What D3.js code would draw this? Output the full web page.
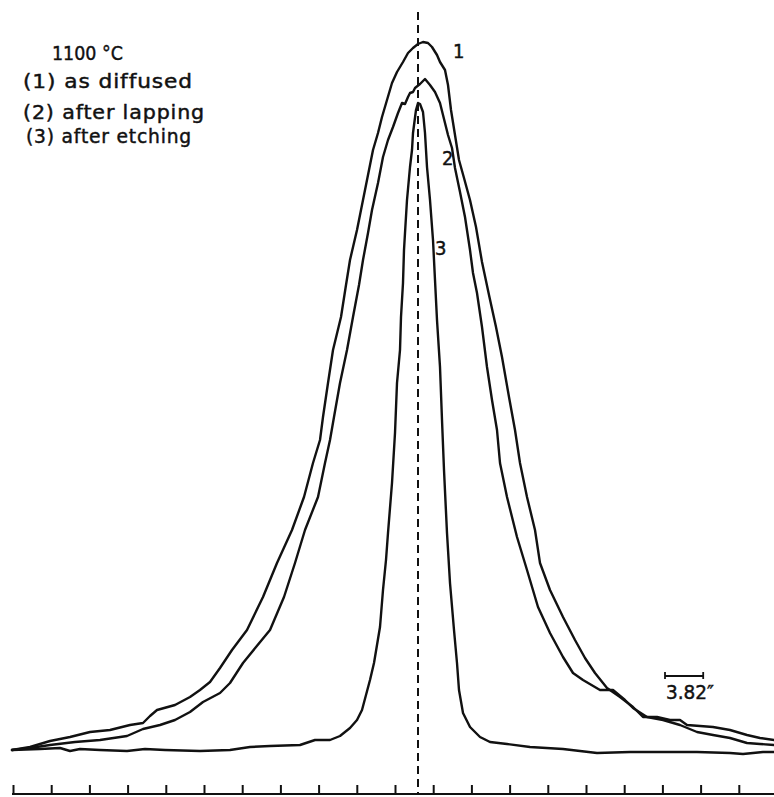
<!DOCTYPE html>
<html>
<head>
<meta charset="utf-8">
<script src="https://cdn.jsdelivr.net/npm/d3@7"></script>
<style>
  html, body { margin: 0; padding: 0; background: #fff; }
  svg { display: block; }
  text { font-family: "DejaVu Sans", "Liberation Sans", sans-serif; fill: #111; stroke: #111; stroke-width: 0.45px; }
</style>
</head>
<body>
<svg id="chart" width="774" height="797"></svg>
<script>
// Angular offset (arcsec) from the peak, and relative intensity (arbitrary units)
const asDiffused = [
  [-40.6,0.2],[-38.8,0.5],[-36.8,1.1],[-34.8,1.5],[-32.8,2.0],[-30.8,2.2],[-28.8,2.7],[-27.5,2.9],
  [-26.8,3.6],[-26.1,4.2],[-24.3,4.7],[-22.8,5.5],[-21.8,6.2],[-20.8,7.0],[-19.8,8.4],[-18.6,10.2],
  [-17.1,12.2],[-15.5,15.5],[-14.1,18.9],[-12.6,22.2],[-11.4,25.5],[-10.5,28.9],[-9.8,31.2],[-9.5,33.5],
  [-9.0,36.9],[-8.5,40.2],[-7.7,43.5],[-7.2,46.7],[-6.8,49.2],[-6.1,52.2],[-5.5,55.2],[-5.0,57.7],
  [-4.5,60.2],[-4.0,61.9],[-3.6,63.5],[-3.1,65.2],[-2.6,66.9],[-2.1,68.0],[-1.8,68.5],[-1.5,69.0],
  [-1.0,69.9],[-0.5,70.4],[0.0,70.8],[0.5,71.0],[1.0,70.9],[1.4,70.5],[1.9,69.7],[2.2,69.0],
  [2.7,68.2],[3.0,66.7],[3.3,64.2],[3.7,61.7],[4.1,59.2],[4.6,57.4],[5.2,55.2],[5.8,52.5],
  [6.4,49.0],[7.1,45.7],[7.8,42.5],[8.4,39.5],[9.1,35.5],[9.7,32.2],[10.2,28.9],[10.9,25.5],
  [11.7,22.2],[12.2,18.9],[13.2,16.2],[14.5,13.5],[15.7,11.2],[16.7,9.4],[17.7,7.9],[18.9,6.4],
  [20.2,5.5],[21.5,4.5],[22.5,3.5],[23.9,3.5],[25.2,3.2],[26.2,3.2],[26.9,2.7],[29.5,2.5],
  [31.2,2.2],[32.9,1.7],[34.2,1.4],[35.6,1.2]
];
const afterLapping = [
  [-40.6,0.2],[-38.8,0.4],[-36.8,0.7],[-34.3,1.0],[-31.8,1.2],[-29.1,1.6],[-27.5,2.3],[-25.8,2.7],
  [-24.3,3.2],[-22.8,4.0],[-21.5,5.0],[-19.8,5.9],[-18.8,6.9],[-17.5,8.9],[-16.2,10.5],[-14.8,12.2],
  [-13.4,15.5],[-12.3,18.9],[-11.3,22.2],[-10.0,25.5],[-9.3,28.9],[-8.8,31.2],[-8.4,33.5],[-7.8,36.9],
  [-7.1,40.2],[-6.5,43.5],[-5.9,46.7],[-5.5,49.2],[-5.0,51.9],[-4.6,54.2],[-4.0,56.9],[-3.5,59.5],
  [-3.0,61.2],[-2.5,62.5],[-2.0,63.9],[-1.6,64.9],[-1.3,64.8],[-1.0,65.5],[-0.8,65.9],[-0.5,66.0],
  [-0.3,66.4],[0.2,66.8],[0.7,67.3],[1.2,66.7],[1.7,66.0],[2.2,64.9],[2.5,63.7],[3.0,61.7],
  [3.4,60.4],[3.7,58.4],[4.2,56.0],[4.7,53.5],[5.2,50.2],[5.5,47.9],[5.9,45.9],[6.4,42.5],
  [6.9,38.5],[7.4,35.2],[7.9,32.2],[8.2,28.9],[8.9,25.5],[9.9,21.5],[10.9,18.2],[12.0,14.5],
  [13.2,11.9],[14.5,9.5],[15.5,7.9],[16.5,7.2],[18.2,6.2],[19.5,6.2],[20.7,5.2],[21.5,4.4],
  [22.9,3.5],[24.5,3.2],[26.2,2.7],[27.9,2.0],[29.5,1.7],[31.2,1.4],[32.9,0.9],[34.2,0.8],[35.6,0.7]
];
const afterEtching = [
  [-40.6,0.2],[-37.8,0.3],[-35.8,0.4],[-34.8,0.1],[-33.8,0.3],[-31.8,0.2],[-29.1,0.1],[-27.3,0.3],
  [-25.3,0.2],[-21.8,0.1],[-18.8,0.2],[-16.8,0.5],[-14.8,0.6],[-11.8,0.7],[-10.3,1.2],[-8.8,1.2],
  [-7.8,1.6],[-6.8,2.4],[-6.1,3.2],[-5.6,4.2],[-5.2,5.7],[-4.8,7.2],[-4.4,8.9],[-4.1,10.7],
  [-3.8,12.5],[-3.5,16.2],[-3.2,19.2],[-3.0,21.9],[-2.6,26.9],[-2.3,31.9],[-2.1,36.9],[-1.8,40.2],
  [-1.7,43.5],[-1.5,46.9],[-1.4,50.2],[-1.3,51.9],[-1.1,55.2],[-0.8,58.5],[-0.6,60.2],[-0.5,61.9],
  [-0.2,64.2],[0.0,64.9],[0.2,64.8],[0.5,64.0],[0.7,61.9],[0.9,58.5],[1.2,55.2],[1.5,51.2],
  [1.7,47.2],[1.9,43.2],[2.2,38.5],[2.4,33.2],[2.6,28.2],[2.9,21.9],[3.2,16.9],[3.6,12.2],
  [3.9,8.9],[4.1,6.2],[4.5,3.9],[5.2,2.5],[6.2,1.5],[7.2,1.0],[8.9,0.8],[11.2,0.5],
  [14.5,0.3],[17.9,-0.1],[21.2,0.0],[24.5,0.0],[27.9,0.0],[31.2,-0.1],[32.5,-0.2],[34.5,0.0],[35.6,0.0]
];

const curveLabels = ["1", "2", "3"];
const curveLabelAt = [[3.5, 69.4], [2.4, 58.7], [1.7, 49.7]];   // [x, y] anchor of each number
const legendTitle = "1100 °C";
const legendLines = ["(1) as diffused", "(2) after lapping", "(3) after etching"];
const scaleBarArcsec = 3.82;
const scaleBarLabel = "3.82″";
const tickStart = -40.5;           // first tick mark (arcsec)
const tickCount = 20;              // ticks every 3.82″

const W = 774, H = 797;
const svg = d3.select("#chart");
svg.append("rect").attr("width", W).attr("height", H).attr("fill", "#fff");

const x = d3.scaleLinear().domain([-40.5, 35.6]).range([13, 774]);
const y = d3.scaleLinear().domain([0, 71]).range([752, 42]);
const axisY = 794;

// axis with upward ticks
const tickValues = d3.range(tickCount).map(i => tickStart + i * scaleBarArcsec);
const axis = d3.axisTop(x).tickValues(tickValues).tickSizeInner(9).tickSizeOuter(0).tickFormat("");
const gAxis = svg.append("g").attr("transform", `translate(0,${axisY})`).call(axis);
gAxis.select(".domain").attr("stroke", "#111").attr("stroke-width", 2).attr("d", `M${x(-40.6)},0H${W}`);
gAxis.selectAll(".tick line").attr("stroke", "#111").attr("stroke-width", 2);

// dashed centre line
svg.append("line")
  .attr("x1", x(0)).attr("x2", x(0))
  .attr("y1", 12).attr("y2", axisY)
  .attr("stroke", "#111").attr("stroke-width", 2)
  .attr("stroke-dasharray", "8,5");

// curves
const line = d3.line().x(d => x(d[0])).y(d => y(d[1])).curve(d3.curveLinear);
[asDiffused, afterLapping, afterEtching].forEach(s => {
  svg.append("path").datum(s)
    .attr("d", line)
    .attr("fill", "none")
    .attr("stroke", "#111")
    .attr("stroke-width", 2.4)
    .attr("stroke-linejoin", "round")
    .attr("stroke-linecap", "round");
});

// curve numbers
curveLabels.forEach((t, i) => {
  svg.append("text")
    .attr("x", x(curveLabelAt[i][0])).attr("y", y(curveLabelAt[i][1]))
    .attr("font-size", 20)
    .style("font-family", "'DejaVu Sans Condensed', 'DejaVu Sans', sans-serif")
    .text(t);
});

// legend block
svg.append("text").attr("x", 52).attr("y", 60).attr("font-size", 20)
  .attr("textLength", 71).attr("lengthAdjust", "spacingAndGlyphs").text(legendTitle);
const legendX = [23, 23, 26], legendY = [88, 119, 143], legendW = [170, 182, 166];
legendLines.forEach((t, i) => {
  svg.append("text").attr("x", legendX[i]).attr("y", legendY[i]).attr("font-size", 19)
    .attr("letter-spacing", 0.8)
    .attr("textLength", legendW[i]).attr("lengthAdjust", "spacingAndGlyphs").text(t);
});

// scale bar
const sbX0 = 24.7, sbY = 676;
const sb = svg.append("g").attr("stroke", "#111").attr("stroke-width", 1.8);
sb.append("line").attr("x1", x(sbX0)).attr("x2", x(sbX0 + scaleBarArcsec)).attr("y1", sbY).attr("y2", sbY);
sb.append("line").attr("x1", x(sbX0)).attr("x2", x(sbX0)).attr("y1", sbY - 4).attr("y2", sbY + 3);
sb.append("line").attr("x1", x(sbX0 + scaleBarArcsec)).attr("x2", x(sbX0 + scaleBarArcsec)).attr("y1", sbY - 4).attr("y2", sbY + 3);
svg.append("text").attr("x", x(sbX0) + 1).attr("y", 699).attr("font-size", 19)
  .attr("textLength", 48).attr("lengthAdjust", "spacingAndGlyphs").text(scaleBarLabel);
</script>
</body>
</html>
